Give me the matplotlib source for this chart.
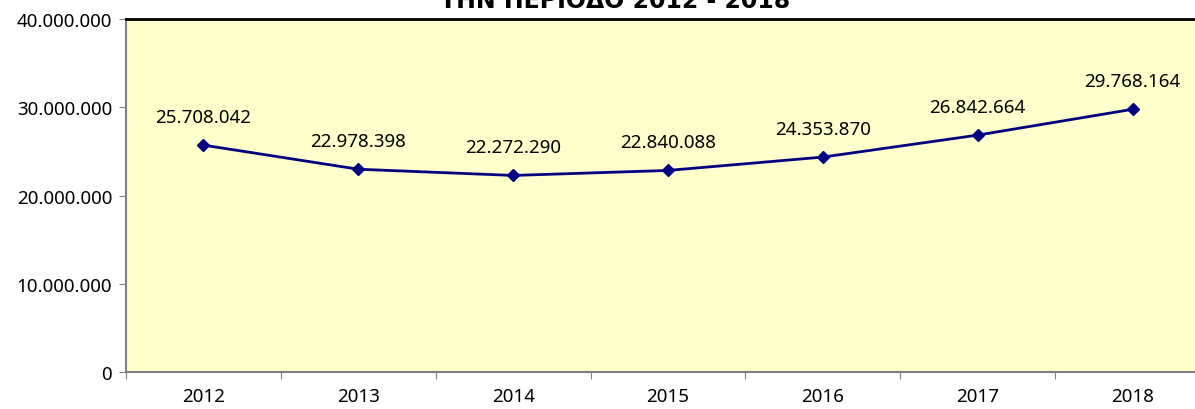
import matplotlib
matplotlib.use('Agg')
import matplotlib.pyplot as plt
from matplotlib.ticker import FuncFormatter, FixedLocator
import numpy as np

years = ['2012', '2013', '2014', '2015', '2016', '2017', '2018']
values = [25708042, 22978398, 22272290, 22840088, 24353870, 26842664, 29768164]
title = 'ΤΗΝ ΠΕΡΙΟΔΟ 2012 - 2018'

plt.rcParams['font.family'] = ['Noto Sans', 'DejaVu Sans']


def dots(v, pos=None):
    return f'{int(v):,}'.replace(',', '.')


fig = plt.figure(figsize=(11.95, 4.10), dpi=100)
ax = fig.add_axes([126 / 1195, 37 / 410, 1084 / 1195, 353 / 410])
ax.set_facecolor('#ffffcc')

x = np.arange(len(years))
ax.plot(x, values, color='#000080', lw=2, marker='D', ms=6, zorder=3)
for xi, v in zip(x, values):
    ax.annotate(dots(v), (xi, v), xytext=(0, 20.5), textcoords='offset points',
                ha='center', va='center', fontsize=13.5, color='black')

ax.set_xlim(-0.5, len(years) - 0.5)
ax.set_ylim(0, 40000000)
ax.set_yticks([0, 10000000, 20000000, 30000000, 40000000])
ax.yaxis.set_major_formatter(FuncFormatter(dots))

ax.xaxis.set_major_locator(FixedLocator(np.arange(-0.5, len(years), 1.0)))
ax.xaxis.set_major_formatter(FuncFormatter(lambda v, p: ''))
ax.set_xticks(x, minor=True)
ax.set_xticklabels(years, minor=True)
ax.tick_params(axis='x', which='minor', length=0, pad=11, labelsize=13.5)
ax.tick_params(axis='x', which='major', length=5, color='#808080', direction='out')
ax.tick_params(axis='y', length=5, color='#808080', labelsize=13.5, pad=5)

for s in ['left', 'bottom']:
    ax.spines[s].set_color('#808080')
    ax.spines[s].set_linewidth(1.5)
ax.spines['top'].set_color('black')
ax.spines['top'].set_linewidth(2)
ax.spines['right'].set_visible(False)

fig.text(615 / 1195, 1 - 8 / 410, title, ha='center', va='baseline',
         fontsize=17, fontweight='bold', family=['DejaVu Sans'])

fig.savefig('out.png', dpi=100)
